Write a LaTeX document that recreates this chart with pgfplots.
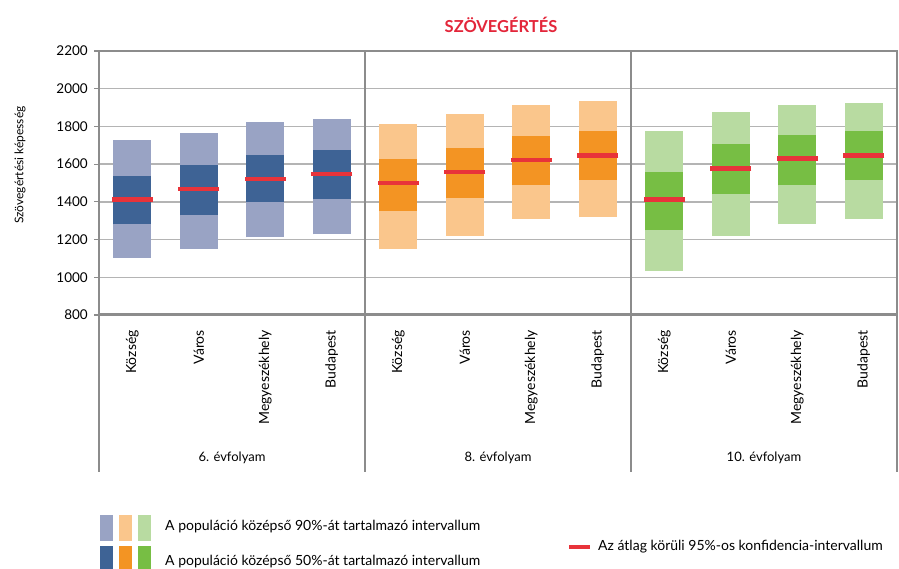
\documentclass[border=0pt]{standalone}
\usepackage{fontspec}
\setmainfont{Lato}
\usepackage{pgfplots}
\usepackage{pgfplotstable}
\pgfplotsset{compat=1.18}

\definecolor{titlered}{HTML}{E3263A}
\definecolor{meanred}{HTML}{E8333A}
\definecolor{darkA}{HTML}{3E6395}
\definecolor{lightA}{HTML}{99A3C4}
\definecolor{darkB}{HTML}{F39423}
\definecolor{lightB}{HTML}{FAC68C}
\definecolor{darkC}{HTML}{77BE44}
\definecolor{lightC}{HTML}{B8DBA1}
\definecolor{axgray}{HTML}{8C8C8C}
\definecolor{gridgray}{HTML}{B4B4B4}

% columns: position, 5th pct, 25th pct, mean, 75th pct, 95th pct
\pgfplotstableread{
x lo q1 mean q3 hi
0 1104 1280 1413 1538 1730
1 1151 1328 1467 1596 1767
2 1211 1400 1522 1647 1822
3 1227 1414 1547 1674 1842
}\sixth
\pgfplotstableread{
x lo q1 mean q3 hi
4 1151 1351 1499 1626 1815
5 1220 1418 1559 1688 1866
6 1310 1488 1623 1748 1916
7 1319 1518 1647 1778 1935
}\eighth
\pgfplotstableread{
x lo q1 mean q3 hi
8 1033 1250 1413 1557 1776
9 1220 1439 1577 1707 1877
10 1280 1488 1631 1757 1916
11 1310 1518 1647 1778 1926
}\tenth

% a vertical band drawn as a thick error bar
\pgfplotsset{
  band/.style={draw=none, mark=none, forget plot,
    error bars/.cd, y dir=plus, y explicit, error mark=none,
    error bar style={line width=38pt, draw=#1}},
  meanbar/.style={only marks, mark=-, mark size=20.5pt, forget plot,
    mark options={line width=4.5pt, draw=meanred}},
}

\begin{document}
\begin{tikzpicture}[font=\fontsize{13}{15}\selectfont]
\useasboundingbox (0,0) rectangle (899pt,569pt);
\begin{axis}[
  at={(99pt,254pt)}, anchor=south west,
  scale only axis, width=798pt, height=264pt,
  xmin=-0.5, xmax=11.5, ymin=800, ymax=2200,
  ytick={800,1000,...,2200},
  /pgf/number format/1000 sep={},
  /pgf/number format/assume math mode=true,
  xtick={0,...,11},
  xticklabels={Község,Város,Megyeszékhely,Budapest,
               Község,Város,Megyeszékhely,Budapest,
               Község,Város,Megyeszékhely,Budapest},
  xticklabel style={rotate=90, anchor=east, inner sep=0pt, font=\fontsize{14}{16}\selectfont},
  xticklabel shift=10pt,
  x tick style={draw=none},
  ytick pos=left, tick align=outside,
  major tick length=5pt,
  y tick style={draw=axgray, line width=1.2pt},
  yticklabel style={inner sep=0pt, font=\fontsize{13.5}{15}\selectfont},
  yticklabel shift=6pt,
  ymajorgrids,
  major grid style={draw=gridgray, line width=1.4pt},
  axis line style={draw=axgray, line width=1.6pt},
  clip=false,
]
  \addplot[band=lightA] table[x=x, y=lo, y error plus expr=\thisrow{hi}-\thisrow{lo}] {\sixth};
  \addplot[band=darkA]  table[x=x, y=q1, y error plus expr=\thisrow{q3}-\thisrow{q1}] {\sixth};
  \addplot[meanbar] table[x=x, y=mean] {\sixth};

  \addplot[band=lightB] table[x=x, y=lo, y error plus expr=\thisrow{hi}-\thisrow{lo}] {\eighth};
  \addplot[band=darkB]  table[x=x, y=q1, y error plus expr=\thisrow{q3}-\thisrow{q1}] {\eighth};
  \addplot[meanbar] table[x=x, y=mean] {\eighth};

  \addplot[band=lightC] table[x=x, y=lo, y error plus expr=\thisrow{hi}-\thisrow{lo}] {\tenth};
  \addplot[band=darkC]  table[x=x, y=q1, y error plus expr=\thisrow{q3}-\thisrow{q1}] {\tenth};
  \addplot[meanbar] table[x=x, y=mean] {\tenth};

  \coordinate (L)  at (axis cs:-0.5,2200);
  \coordinate (D1) at (axis cs:3.5,2200);
  \coordinate (D2) at (axis cs:7.5,2200);
  \coordinate (R)  at (axis cs:11.5,2200);
  \coordinate (B0) at (axis cs:-0.5,800);
  \coordinate (B1) at (axis cs:11.5,800);
  \coordinate (G1) at (axis cs:1.5,800);
  \coordinate (G2) at (axis cs:5.5,800);
  \coordinate (G3) at (axis cs:9.5,800);
\end{axis}

% panel dividers and the frame of the category strip
\draw[axgray, line width=2.4pt] (L) -- (L |- 0,97pt);
\draw[axgray, line width=2.6pt] (D1) -- (D1 |- 0,97pt);
\draw[axgray, line width=2.6pt] (D2) -- (D2 |- 0,97pt);
\draw[axgray, line width=2pt] (R) -- (R |- 0,97pt);
\draw[axgray, line width=3pt] (B0) -- (B1);

% grade labels
\node at (G1 |- 0,111pt) {6. évfolyam};
\node at (G2 |- 0,111pt) {8. évfolyam};
\node at (G3 |- 0,111pt) {10. évfolyam};

% title and axis title
\node[font=\fontsize{16.5}{18}\selectfont\bfseries, text=titlered] at (501pt,544pt) {SZÖVEGÉRTÉS};
\node[rotate=90, font=\fontsize{12}{14}\selectfont] at (20pt,404pt) {Szövegértési képesség};

% legend
\fill[lightA] (100pt,28pt) rectangle (113pt,54pt);
\fill[lightB] (119pt,28pt) rectangle (132pt,54pt);
\fill[lightC] (138pt,28pt) rectangle (151pt,54pt);
\fill[darkA] (100pt,0pt) rectangle (113pt,23pt);
\fill[darkB] (119pt,0pt) rectangle (132pt,23pt);
\fill[darkC] (138pt,0pt) rectangle (151pt,23pt);
\begin{scope}[font=\fontsize{14}{16}\selectfont]
\node[anchor=west, inner sep=0pt] at (165pt,42pt) {A populáció középső 90\%-át tartalmazó intervallum};
\node[anchor=west, inner sep=0pt] at (165pt,7pt) {A populáció középső 50\%-át tartalmazó intervallum};
\draw[meanred, line width=4.5pt] (569pt,22pt) -- (590pt,22pt);
\node[anchor=west, inner sep=0pt] at (598pt,22pt) {Az átlag körüli 95\%-os konfidencia-intervallum};
\end{scope}
\end{tikzpicture}
\end{document}
